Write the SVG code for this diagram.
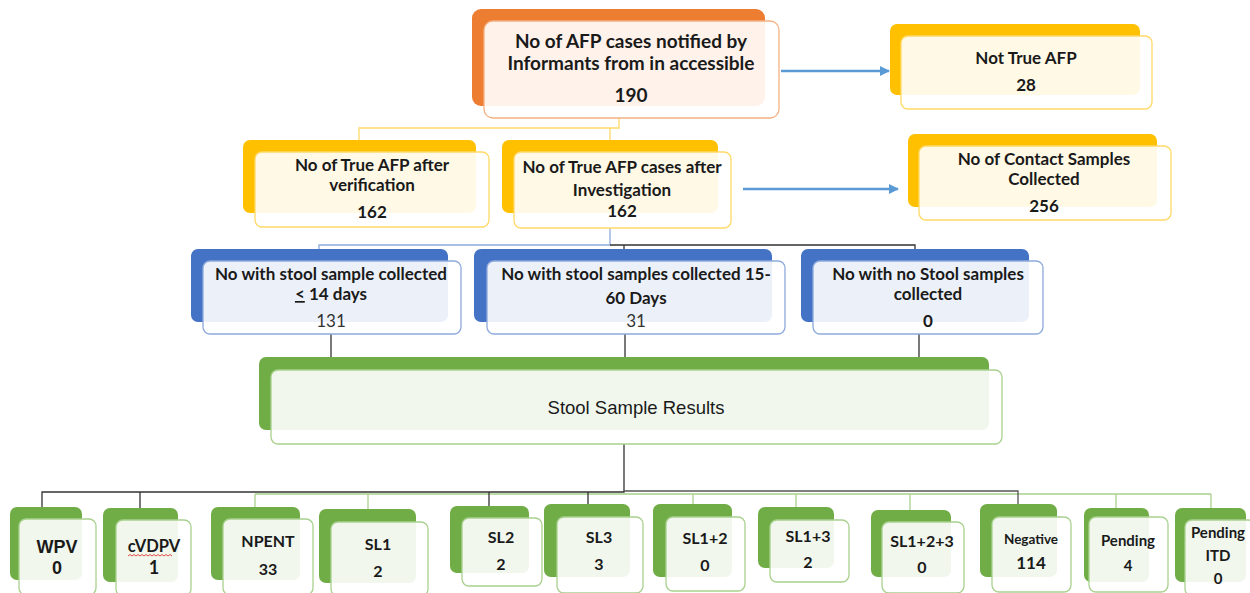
<svg xmlns="http://www.w3.org/2000/svg" width="1250" height="593" viewBox="0 0 1250 593">
<defs>
<marker id="arr" markerWidth="12" markerHeight="12" refX="9" refY="6" orient="auto" markerUnits="userSpaceOnUse">
<path d="M0,1 L10,6 L0,11 Z" fill="#5B9BD5"/>
</marker>
<style>
.or{fill:#ED7D31}.ye{fill:#FFC000}.bl{fill:#4472C4}.gr{fill:#70AD47}
.fr{fill:#FFFFFF;fill-opacity:0.9;stroke-width:1.3}
.fo{stroke:#F4B183}.fy{stroke:#FFD966}.fb{stroke:#8FAADC}.fg{stroke:#A9D18E}
text{font-family:Lato,"Open Sans","Liberation Sans",sans-serif;fill:#1a1a1a;text-anchor:middle}
.b{font-weight:bold}
.t19{font-size:19px}.t17{font-size:17px}.t16{font-size:16px}.t15{font-size:15px}
.n{font-weight:normal;font-size:17px;fill:#333333}
.reg{font-family:"Liberation Sans",Arial,sans-serif;font-weight:normal;font-size:18.5px}
.c{fill:none;stroke-width:1.3}
.cy{stroke:#FFD966}.cb{stroke:#8FAADC}.ck{stroke:#333333}.cg{stroke:#A9D18E}
.ar{fill:none;stroke:#5B9BD5;stroke-width:2.5;marker-end:url(#arr)}
</style>
</defs>
<rect width="1250" height="593" fill="#FFFFFF"/>

<g id="connectors">
<path class="c cy" d="M619,118 V128 H359 V140 M610,128 V140"/>
<path class="c cb" d="M610,228 V245 H319 V250"/>
<path class="c ck" d="M610,245 H915 V250 M624,245 V250"/>
<path class="c ck" d="M331,334 V370 M625,334 V370 M919,334 V370"/>
<path class="c cg" d="M255,494 H1211 M255,494 V507 M368,494 V509 M693,494 V504 M796,494 V507 M910,494 V510 M1116,494 V508 M1211,494 V508"/>
<path class="c ck" d="M624,444 V492 H42 V507 M140,492 V508 M489,492 V506 M588,492 V504"/>
<path class="c ck" style="stroke:#555555" d="M624,491 H1018 V504"/>
<path class="ar" d="M781,71 H889"/>
<path class="ar" d="M743,189 H898"/>
</g>

<g id="n_notified">
<rect class="or" x="472" y="9" width="293" height="97" rx="9"/>
<rect class="fr fo" x="484" y="21" width="295" height="97" rx="9"/>
<text class="b t19" x="631" y="48">No of AFP cases notified by</text>
<text class="b t19" x="631" y="70">Informants from in accessible</text>
<text class="b t19" x="631" y="102">190</text>
</g>

<g id="n_not_true">
<rect class="ye" x="890" y="24" width="250" height="71" rx="7"/>
<rect class="fr fy" x="901" y="36" width="251" height="73" rx="7"/>
<text class="b t17" x="1026" y="64">Not True AFP</text>
<text class="b t17" x="1026" y="91">28</text>
</g>

<g id="n_verification">
<rect class="ye" x="243" y="140" width="233" height="73" rx="7"/>
<rect class="fr fy" x="255" y="152" width="234" height="75" rx="7"/>
<text class="b t17" x="372" y="171">No of True AFP after</text>
<text class="b t17" x="372" y="191">verification</text>
<text class="b t17" x="372" y="218">162</text>
</g>

<g id="n_investigation">
<rect class="ye" x="502" y="140" width="216" height="73" rx="7"/>
<rect class="fr fy" x="514" y="152" width="217" height="76" rx="7"/>
<text class="b t17" x="622" y="173">No of True AFP cases after</text>
<text class="b t17" x="622" y="196">Investigation</text>
<text class="b t17" x="622" y="217">162</text>
</g>

<g id="n_contact">
<rect class="ye" x="908" y="134" width="249" height="73" rx="7"/>
<rect class="fr fy" x="919" y="146" width="252" height="74" rx="7"/>
<text class="b t17" x="1044" y="165">No of Contact Samples</text>
<text class="b t17" x="1044" y="185">Collected</text>
<text class="b t17" x="1044" y="212">256</text>
</g>

<g id="n_le14">
<rect class="bl" x="191" y="249" width="257" height="73" rx="7"/>
<rect class="fr fb" x="203" y="261" width="258" height="73" rx="7"/>
<text class="b t17" x="331" y="280">No with stool sample collected</text>
<text class="b t17" x="331" y="300"><tspan text-decoration="underline">&lt;</tspan> 14 days</text>
<text class="n" x="331" y="327">131</text>
</g>

<g id="n_15_60">
<rect class="bl" x="474" y="249" width="298" height="73" rx="7"/>
<rect class="fr fb" x="487" y="261" width="298" height="73" rx="7"/>
<text class="b t17" x="636" y="280">No with stool samples collected 15-</text>
<text class="b t17" x="636" y="304">60 Days</text>
<text class="n" x="636" y="327">31</text>
</g>

<g id="n_none">
<rect class="bl" x="801" y="249" width="228" height="73" rx="7"/>
<rect class="fr fb" x="813" y="261" width="230" height="73" rx="7"/>
<text class="b t17" x="928" y="280">No with no Stool samples</text>
<text class="b t17" x="928" y="300">collected</text>
<text class="b t17" x="928" y="327">0</text>
</g>

<g id="n_results">
<rect class="gr" x="259" y="357" width="730" height="73" rx="7"/>
<rect class="fr fg" x="271" y="370" width="731" height="74" rx="7"/>
<text class="reg" x="636" y="414">Stool Sample Results</text>
</g>

<g id="n_wpv">
<rect class="gr" x="10" y="507" width="72" height="73" rx="7"/>
<rect class="fr fg" x="19" y="519" width="77" height="76" rx="7"/>
<text class="b" x="57" y="553" style="font-family:'Liberation Sans',Arial,sans-serif;font-size:18px">WPV</text>
<text class="b" x="57" y="574" style="font-family:'Liberation Sans',Arial,sans-serif;font-size:18px">0</text>
</g>

<g id="n_cvdpv">
<rect class="gr" x="103" y="508" width="75" height="74" rx="7"/>
<rect class="fr fg" x="116" y="520" width="75" height="76" rx="7"/>
<text class="b" x="154" y="552" style="font-size:16.5px">cVDPV</text>
<path d="M128,556 l2,-1.5 l2,1.5 l2,-1.5 l2,1.5 l2,-1.5 l2,1.5 l2,-1.5 l2,1.5 l2,-1.5 l2,1.5 l2,-1.5 l2,1.5 l2,-1.5 l2,1.5 l2,-1.5 l2,1.5 l2,-1.5 l2,1.5 l2,-1.5 l2,1.5 l2,-1.5 l2,1.5" fill="none" stroke="#E02020" stroke-width="0.8"/>
<text class="b" x="154" y="574" style="font-size:18px">1</text>
</g>

<g id="n_npent">
<rect class="gr" x="211" y="507" width="89" height="73" rx="7"/>
<rect class="fr fg" x="223" y="519" width="90" height="76" rx="7"/>
<text class="b t16" x="268" y="547">NPENT</text>
<text class="b t16" x="268" y="575">33</text>
</g>

<g id="n_sl1">
<rect class="gr" x="319" y="509" width="97" height="74" rx="7"/>
<rect class="fr fg" x="331" y="522" width="97" height="74" rx="7"/>
<text class="b t16" x="378" y="550">SL1</text>
<text class="b t16" x="378" y="577">2</text>
</g>

<g id="n_sl2">
<rect class="gr" x="450" y="506" width="79" height="67" rx="7"/>
<rect class="fr fg" x="462" y="518" width="80" height="68" rx="7"/>
<text class="b t16" x="501" y="543">SL2</text>
<text class="b t16" x="501" y="570">2</text>
</g>

<g id="n_sl3">
<rect class="gr" x="544" y="504" width="86" height="73" rx="7"/>
<rect class="fr fg" x="557" y="517" width="86" height="76" rx="7"/>
<text class="b t16" x="599" y="543">SL3</text>
<text class="b t16" x="599" y="570">3</text>
</g>

<g id="n_sl12">
<rect class="gr" x="653" y="504" width="79" height="73" rx="7"/>
<rect class="fr fg" x="666" y="517" width="79" height="74" rx="7"/>
<text class="b t16" x="705" y="544">SL1+2</text>
<text class="b t16" x="705" y="571">0</text>
</g>

<g id="n_sl13">
<rect class="gr" x="758" y="507" width="76" height="61" rx="7"/>
<rect class="fr fg" x="770" y="520" width="79" height="62" rx="7"/>
<text class="b t16" x="808" y="542">SL1+3</text>
<text class="b t16" x="808" y="568">2</text>
</g>

<g id="n_sl123">
<rect class="gr" x="871" y="510" width="80" height="67" rx="7"/>
<rect class="fr fg" x="882" y="522" width="82" height="71" rx="7"/>
<text class="b t16" x="922" y="547">SL1+2+3</text>
<text class="b t16" x="922" y="573">0</text>
</g>

<g id="n_negative">
<rect class="gr" x="980" y="504" width="77" height="73" rx="7"/>
<rect class="fr fg" x="992" y="517" width="79" height="75" rx="7"/>
<text class="b" x="1031" y="544" style="font-size:13.5px">Negative</text>
<text class="b" x="1031" y="569" style="font-size:17px">114</text>
</g>

<g id="n_pending">
<rect class="gr" x="1084" y="508" width="65" height="74" rx="7"/>
<rect class="fr fg" x="1089" y="517" width="79" height="75" rx="7"/>
<text class="b t15" x="1128" y="546">Pending</text>
<text class="b t15" x="1128" y="571">4</text>
</g>

<g id="n_pending_itd">
<rect class="gr" x="1175" y="508" width="71" height="74" rx="7"/>
<rect class="fr fg" x="1185" y="520" width="70" height="76" rx="7"/>
<text class="b t15" x="1218" y="538">Pending</text>
<text class="b t15" x="1218" y="561">ITD</text>
<text class="b t15" x="1218" y="584">0</text>
</g>
</svg>
